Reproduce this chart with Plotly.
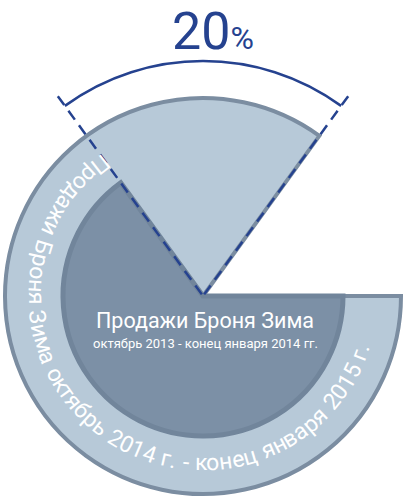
import math
import plotly.graph_objects as go

# share of a full circle taken by each period (outer ring / inner disk)
periods = ["октябрь 2014 г. - конец января 2015 г.", "октябрь 2013 - конец января 2014 гг."]
shares = [85, 65]
title = "Продажи Броня Зима"
growth = shares[0] - shares[1]

light = "#b7c9d8"
edge = "#7b8da1"
dark = "#7c90a6"
rim = "#71859b"
blue = "#25428f"
font = "Roboto, sans-serif"

outer_start = 360 - shares[0] * 3.6
inner_start = 360 - shares[1] * 3.6

fig = go.Figure()
fig.add_trace(go.Scatter(x=[], y=[], showlegend=False, hoverinfo="skip"))

fig.add_trace(go.Barpolar(
    r=[198], theta=[360 - shares[0] * 1.8], width=[shares[0] * 3.6],
    marker=dict(color=light, line=dict(color=edge, width=4)),
    hoverinfo="skip", showlegend=False))
fig.add_trace(go.Barpolar(
    r=[140], theta=[360 - shares[1] * 1.8], width=[shares[1] * 3.6],
    marker=dict(color=dark, line=dict(color=rim, width=5)),
    hoverinfo="skip", showlegend=False))

# dashed guides and the arc over the growth wedge
for a in (outer_start, inner_start):
    t = math.radians(a)
    fig.add_shape(type="line", xref="x", yref="y", layer="above",
                  x0=247 * math.cos(t), y0=247 * math.sin(t), x1=0, y1=0,
                  line=dict(color=blue, width=2.5, dash="11px,7px"))

a0, a1 = math.radians(outer_start), math.radians(inner_start)
R = 235
k = 4 / 3 * math.tan((a1 - a0) / 4)
p0 = (R * math.cos(a0), R * math.sin(a0))
p3 = (R * math.cos(a1), R * math.sin(a1))
p1 = (p0[0] - k * R * math.sin(a0), p0[1] + k * R * math.cos(a0))
p2 = (p3[0] + k * R * math.sin(a1), p3[1] - k * R * math.cos(a1))
fig.add_shape(type="path", xref="x", yref="y", layer="above",
              path=f"M {p0[0]},{p0[1]} C {p1[0]},{p1[1]} {p2[0]},{p2[1]} {p3[0]},{p3[1]}",
              line=dict(color=blue, width=2.5))

fig.add_annotation(x=10, y=265, xref="x", yref="y", showarrow=False,
                   text=f"{growth}<span style='font-size:32px'>%</span>",
                   font=dict(family=font, size=52, color=blue))

fig.add_annotation(x=2, y=-24, xref="x", yref="y", showarrow=False, text=title,
                   font=dict(family=font, size=21.5, color="white"))
fig.add_annotation(x=2, y=-47, xref="x", yref="y", showarrow=False, text=periods[1],
                   font=dict(family=font, size=13, color="white"))

# text bent along the outer ring, one character at a time
ring_text = title + " " + periods[0]
wd = {" ": 0.28, ".": 0.28, "-": 0.33, "П": 0.72, "Б": 0.66, "З": 0.6, "р": 0.556,
      "о": 0.556, "д": 0.58, "а": 0.556, "ж": 0.72, "и": 0.56, "н": 0.55, "я": 0.54,
      "м": 0.68, "к": 0.45, "т": 0.44, "б": 0.56, "ь": 0.52, "г": 0.37, "е": 0.556,
      "ц": 0.57, "в": 0.53}
w = [wd.get(c, 0.556) for c in ring_text]
centers = []
acc = 0
for x in w:
    centers.append(acc + x / 2)
    acc += x
t0, t1 = inner_start + 2, 342
for c, m in zip(ring_text, centers):
    if c == " ":
        continue
    a = t0 + (m - centers[0]) / (centers[-1] - centers[0]) * (t1 - t0)
    ang = -(a + 90)
    ang = (ang + 180) % 360 - 180
    fig.add_annotation(x=167 * math.cos(math.radians(a)), y=167 * math.sin(math.radians(a)),
                       xref="x", yref="y", showarrow=False, text=c, textangle=ang,
                       font=dict(family=font, size=23, color="white"))

fig.update_layout(
    width=406, height=500, margin=dict(l=0, r=0, t=0, b=0),
    paper_bgcolor="white", plot_bgcolor="rgba(0,0,0,0)",
    xaxis=dict(range=[-203, 203], visible=False, fixedrange=True),
    yaxis=dict(range=[-204, 296], visible=False, fixedrange=True),
    polar=dict(domain=dict(x=[0, 1], y=[0, 0.816]), bgcolor="rgba(0,0,0,0)",
               barmode="overlay",
               radialaxis=dict(range=[0, 203], visible=False),
               angularaxis=dict(visible=False, rotation=0, direction="counterclockwise")),
    showlegend=False,
)
fig.write_html("out.html", config={"displayModeBar": False},
               post_script="document.body.style.margin='0';")
